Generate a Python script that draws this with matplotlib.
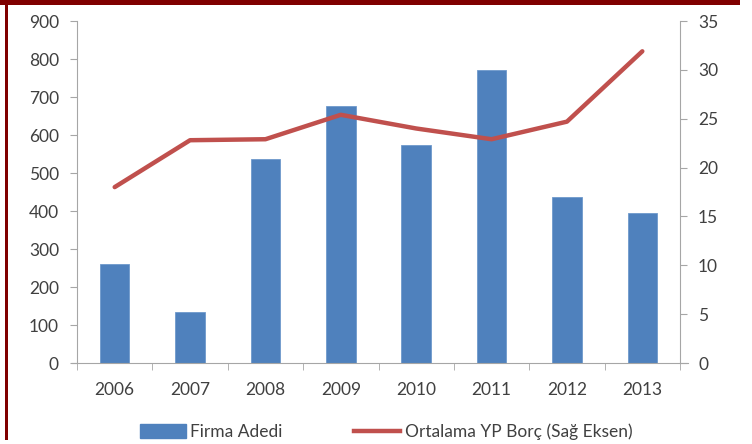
import matplotlib
matplotlib.use("Agg")
import matplotlib.pyplot as plt
from matplotlib.patches import Rectangle
from matplotlib.lines import Line2D
from matplotlib.patches import Patch
import numpy as np

years = ["2006", "2007", "2008", "2009", "2010", "2011", "2012", "2013"]
firma_adedi = [260, 135, 538, 676, 574, 771, 438, 395]
yp_borc = [18.0, 22.8, 22.9, 25.4, 24.0, 22.9, 24.7, 31.9]

bar_label = "Firma Adedi"
line_label = "Ortalama YP Borç (Sağ Eksen)"

W, H = 752, 444
fig = plt.figure(figsize=(W / 100, H / 100), dpi=100)
plt.rcParams['font.family'] = ['Lato', 'DejaVu Sans']

ax = fig.add_axes([77 / W, 1 - 363 / H, (680 - 77) / W, (363 - 21) / H])
ax2 = ax.twinx()

x = np.arange(len(years))
blue = "#4F81BD"
red = "#C0504D"
gray = "#A6A6A6"
txt = "#404040"

ax.bar(x, firma_adedi, width=0.39, color=blue, edgecolor="#6f99cc", linewidth=0.6, zorder=2)
ax2.plot(x, yp_borc, color=red, linewidth=3.2, solid_capstyle="round", zorder=3)

ax.set_xlim(-0.5, len(years) - 0.5)
ax.set_ylim(0, 900)
ax.set_yticks(np.arange(0, 901, 100))
ax2.set_ylim(0, 35)
ax2.set_yticks(np.arange(0, 36, 5))

ax.set_xticks(x)
ax.set_xticklabels(years)
ax.set_xticks(np.arange(-0.5, len(years), 1), minor=True)
ax.tick_params(axis="x", which="major", length=0, pad=14, labelsize=12.5, labelcolor=txt)
ax.tick_params(axis="x", which="minor", length=5, color=gray, direction="out")
ax.tick_params(axis="y", length=5, color=gray, labelsize=12.5, labelcolor=txt, pad=8)
ax2.tick_params(axis="y", length=5, color=gray, labelsize=12.5, labelcolor=txt, pad=8)

for a in (ax, ax2):
    for s in a.spines.values():
        s.set_visible(False)
ax.spines["left"].set_visible(True)
ax.spines["left"].set_color(gray)
ax.spines["bottom"].set_visible(True)
ax.spines["bottom"].set_color(gray)
ax2.spines["right"].set_visible(True)
ax2.spines["right"].set_color(gray)
ax.spines["bottom"].set_bounds(-0.5 - 5 / 75.4, len(years) - 0.5 + 8 / 75.4)
ax.set_zorder(1)
ax2.set_zorder(2)
ax.patch.set_visible(False)

handles = [Patch(facecolor=blue, edgecolor=blue),
           Line2D([0], [0], color=red, linewidth=3.2)]
fig.legend(handles, [bar_label, line_label], loc="center",
           bbox_to_anchor=(386 / W, 1 - 432 / H), ncol=2, frameon=False,
           fontsize=12.5, labelcolor=txt, handlelength=2.65, handleheight=0.9,
           columnspacing=4.1, handletextpad=0.28)

# dark red frame
dr = "#800000"
fig.patches.append(Rectangle((0, 1 - 5 / H), 740 / W, 5 / H, transform=fig.transFigure,
                             facecolor=dr, edgecolor="none", zorder=10))
fig.patches.append(Rectangle((5 / W, 1 - 440 / H), 3 / W, 440 / H, transform=fig.transFigure,
                             facecolor=dr, edgecolor="none", zorder=10))

fig.savefig("out.png", dpi=100)
